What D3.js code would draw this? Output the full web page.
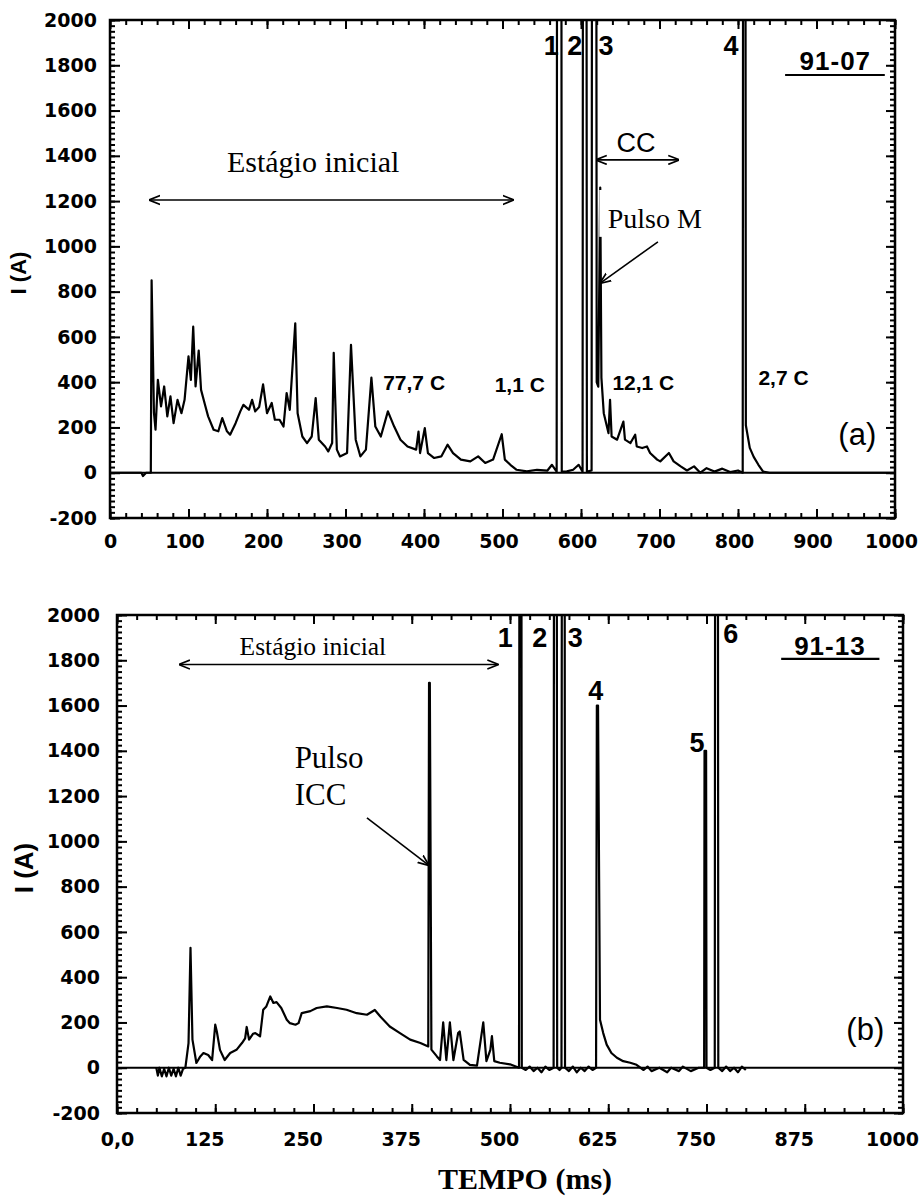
<!DOCTYPE html>
<html lang="pt">
<head>
<meta charset="UTF-8" />
<title>Corrente de descarga</title>
<style>
  body { margin: 0; background: #fff; }
  svg { display: block; }
  .trace { fill: none; stroke: #000; stroke-width: 2.2px; stroke-linejoin: round; }
  .zero { stroke: #000; stroke-width: 2px; }
  .frame { fill: none; stroke: #000; stroke-width: 2.5px; }
  .axis path { display: none; }
  .axis line { stroke: #000; stroke-width: 2px; }
  .axis text { font-family: "DejaVu Sans", sans-serif; font-weight: bold; font-size: 19px; fill: #000; }
  .num { font-family: "Liberation Sans", Arial, sans-serif; font-weight: bold; font-size: 27px; }
  .charge { font-family: "Liberation Sans", Arial, sans-serif; font-weight: bold; font-size: 21px; }
  .serif { font-family: "Liberation Serif", "Times New Roman", serif; }
  .arrow { stroke: #000; stroke-width: 1.6px; fill: none; }
</style>
</head>
<body>
<svg width="924" height="1200"></svg>
<script src="https://cdnjs.cloudflare.com/ajax/libs/d3/7.8.5/d3.min.js"></script>
<script>
// ---- data (ms, A); 2600 = off-scale peak ----
const timeA = [0, 40, 42, 46, 52, 53, 56, 58, 61, 65, 69, 73, 77, 81, 86, 91, 95, 100, 103, 106, 109, 113, 116,
  121, 125, 132, 138, 143, 149, 153, 160, 166, 170, 177, 181, 185, 190, 195, 200, 206, 210, 216, 221, 225, 229,
  236, 239, 245, 251, 257, 262, 266, 274, 278, 283, 285, 289, 293, 302, 307, 313, 319, 326, 333, 338, 345, 354,
  362, 370, 379, 390, 393, 395, 401, 405, 413, 422, 430, 437, 447, 459, 469, 478, 488, 499, 503, 510, 518, 531,
  544, 557, 563, 569, 569.5, 575, 575.5, 582, 590, 597, 602, 602.5, 607, 607.5, 613.5, 614, 619.5, 620, 622,
  624.5, 626, 629, 635, 637, 639, 646, 654, 656, 663, 669, 671, 678, 684, 688, 697, 701, 712, 718, 727, 735,
  744, 752, 760, 770, 780, 790, 800, 806, 806.5, 809.5, 810, 815, 820, 826, 832, 840, 1000];
const currentA = [0, 0, -15, 0, 0, 850, 264, 190, 410, 293, 381, 249, 337, 219, 322, 263, 322, 514, 410, 645, 381,
  540, 366, 300, 249, 190, 183, 241, 183, 168, 219, 271, 300, 278, 322, 271, 290, 390, 263, 308, 234, 234, 204,
  352, 278, 660, 263, 160, 131, 160, 330, 146, 116, 94, 131, 530, 102, 72, 87, 565, 146, 72, 102, 420, 204, 160,
  271, 204, 146, 116, 102, 182, 87, 197, 87, 65, 72, 124, 87, 58, 50, 72, 43, 58, 170, 58, 35, 13, 6, 13, 9, 35,
  5, 2600, 2600, 5, 6, 13, 35, 5, 2600, 2600, 5, 10, 2600, 2600, 400, 380, 1260, 420, 263, 175, 322, 160, 146,
  226, 146, 131, 168, 116, 109, 116, 87, 58, 50, 87, 50, 28, 10, 28, 0, 20, 5, 18, 3, 10, 0, 2600, 2600, 210, 110,
  70, 35, 5, 0, 0];

const timeB = [50, 52, 54, 57, 60, 63, 66, 69, 72, 75, 78, 81, 84, 87, 91, 93.5, 96, 101, 106, 110, 116, 121, 125,
  127, 131, 137, 144, 152, 159, 163, 165, 168, 173, 176, 182, 186, 190, 195, 199, 203, 209, 216, 220, 227, 231,
  235, 246, 254, 267, 280, 292, 305, 318, 328, 335, 347, 360, 373, 386, 396, 397, 398, 400, 407, 411, 415, 419,
  423.5, 428, 434, 436, 441, 449, 458, 466, 470, 475, 477, 480, 487, 500, 511.5, 512, 514.5, 515, 520, 525, 530,
  535, 540, 545, 550, 555.5, 556, 559.5, 560, 563, 565.5, 566, 569.5, 570, 575, 580, 585, 590, 595, 600, 605,
  609.5, 610.5, 612, 614.5, 618.6, 623, 629, 636, 644, 653, 661, 670, 675, 680, 690, 700, 705, 715, 720, 730,
  740, 747, 747.5, 749.5, 750, 755, 760.5, 761, 764.5, 765, 770, 775, 780, 785, 790, 795, 800];
const currentB = [0, -35, 0, -38, -5, -38, 0, -35, -5, -38, 0, -35, -5, 0, 109, 530, 124, 21, 50, 65, 56, 34, 190,
  160, 79, 34, 65, 79, 109, 130, 180, 124, 150, 153, 139, 256, 271, 315, 286, 290, 264, 212, 197, 190, 197, 241,
  250, 264, 271, 264, 256, 241, 234, 255, 226, 182, 153, 124, 109, 94, 1700, 1700, 80, 50, 34, 200, 34, 200, 34,
  153, 160, 35, 13, 9, 200, 29, 79, 140, 29, 22, 15, 0, 2600, 2600, 0, -10, 5, -15, 0, -20, 5, -10, 0, 2600, 2600,
  0, -10, 0, 2600, 2600, 0, -15, 5, -20, 0, -15, 5, -10, 0, 1600, 1600, 212, 153, 102, 65, 44, 29, 22, 13, -10, 5,
  -15, 0, -20, 0, -15, 5, -15, 0, 0, 1400, 1400, 0, -10, 0, 2600, 2600, 0, -15, 5, -15, 0, -20, 5, -10];

const yTicks = d3.range(-200, 2001, 200);
const xTicksA = d3.range(0, 1001, 100);
const xLabelsA = ["0", "100", "200", "300", "400", "500", "600", "700", "800", "900", "1000"];
const xTicksB = d3.range(0, 1001, 125);
const xLabelsB = ["0,0", "125", "250", "375", "500", "625", "750", "875", "1000"];

// annotation anchors in data units (ms, A)
const strokesA = [{ t: 562, i: 1845, s: "1" }, { t: 592, i: 1845, s: "2" }, { t: 632, i: 1845, s: "3" }, { t: 791, i: 1845, s: "4" }];
const chargesA = [{ t: 348, i: 366, s: "77,7 C" }, { t: 490, i: 358, s: "1,1 C" }, { t: 640, i: 366, s: "12,1 C" }, { t: 826, i: 389, s: "2,7 C" }];
const strokesB = [{ t: 494, i: 1859, s: "1" }, { t: 538, i: 1859, s: "2" }, { t: 583, i: 1859, s: "3" },
  { t: 609, i: 1625, s: "4" }, { t: 738, i: 1395, s: "5" }, { t: 781, i: 1876, s: "6" }];

const svg = d3.select("svg");
svg.append("defs").append("marker")
  .attr("id", "head").attr("viewBox", "0 0 10 10").attr("refX", 9).attr("refY", 5)
  .attr("markerWidth", 7).attr("markerHeight", 7).attr("orient", "auto-start-reverse")
  .append("path").attr("d", "M0,1 L10,5 L0,9").attr("fill", "none").attr("stroke", "#000").attr("stroke-width", 1.5);

function drawPanel(p) {
  const g = svg.append("g");
  const x = d3.scaleLinear().domain([0, 1000]).range([p.left, p.right]);
  const y = d3.scaleLinear().domain([-200, 2000]).range([p.bottom, p.top]);

  g.append("clipPath").attr("id", p.id + "clip").append("rect")
    .attr("x", p.left).attr("y", p.top).attr("width", p.right - p.left).attr("height", p.bottom - p.top);

  const minorX = d3.range(0, 1001, p.xMinor);
  const minorY = d3.range(-200, 2001, 25);

  // ticks, all pointing inward
  g.append("g").attr("class", "axis").attr("transform", `translate(0,${p.bottom})`)
    .call(d3.axisBottom(x).tickValues(minorX).tickSize(-5).tickFormat(""));
  g.append("g").attr("class", "axis").attr("transform", `translate(0,${p.bottom})`)
    .call(d3.axisBottom(x).tickValues(p.xTicks).tickSize(-9).tickPadding(p.xPad).tickFormat((d, i) => p.xLabels[i]))
    .selectAll("text").attr("dx", (d, i) => (i === 0 ? 0 : p.xShift));
  g.append("g").attr("class", "axis").attr("transform", `translate(0,${p.top})`)
    .call(d3.axisTop(x).tickValues(minorX).tickSize(-5).tickFormat(""));
  g.append("g").attr("class", "axis").attr("transform", `translate(0,${p.top})`)
    .call(d3.axisTop(x).tickValues(p.xTicks).tickSize(-9).tickFormat(""));
  g.append("g").attr("class", "axis").attr("transform", `translate(${p.left},0)`)
    .call(d3.axisLeft(y).tickValues(minorY).tickSize(-5).tickFormat(""));
  g.append("g").attr("class", "axis").attr("transform", `translate(${p.left},0)`)
    .call(d3.axisLeft(y).tickValues(yTicks).tickSize(-10).tickPadding(p.yPad).tickFormat(d => String(d)));
  g.append("g").attr("class", "axis").attr("transform", `translate(${p.right},0)`)
    .call(d3.axisRight(y).tickValues(minorY).tickSize(-5).tickFormat(""));
  g.append("g").attr("class", "axis").attr("transform", `translate(${p.right},0)`)
    .call(d3.axisRight(y).tickValues(yTicks).tickSize(-9).tickFormat(""));

  g.append("rect").attr("class", "frame")
    .attr("x", p.left).attr("y", p.top).attr("width", p.right - p.left).attr("height", p.bottom - p.top);

  g.append("line").attr("class", "zero")
    .attr("x1", x(0)).attr("x2", x(1000)).attr("y1", y(0)).attr("y2", y(0));

  const pts = p.time.map((t, i) => [t, p.current[i]]);
  g.append("path").attr("class", "trace").attr("clip-path", `url(#${p.id}clip)`)
    .attr("d", d3.line().x(d => x(d[0])).y(d => y(d[1]))(pts));

  g.append("text")
    .attr("transform", `translate(${p.labelX},${p.labelY}) rotate(-90)`)
    .attr("text-anchor", "middle")
    .style("font-family", "Liberation Sans, Arial, sans-serif").style("font-weight", "bold")
    .style("font-size", p.labelSize + "px").text("I (A)");

  g.selectAll(".num" + p.id).data(p.strokes).join("text").attr("class", "num")
    .attr("x", d => x(d.t)).attr("y", d => y(d.i)).attr("text-anchor", "middle").text(d => d.s);

  g.append("text").attr("class", "num").style("font-size", "26px").style("letter-spacing", "1px")
    .attr("x", x(p.code.t)).attr("y", y(p.code.i)).attr("text-anchor", "middle").text(p.code.s);
  g.append("line").attr("stroke", "#000").attr("stroke-width", 2.2)
    .attr("x1", x(p.code.u0)).attr("x2", x(p.code.u1)).attr("y1", y(p.code.ui)).attr("y2", y(p.code.ui));

  g.append("text").style("font-family", "Liberation Sans, Arial, sans-serif").style("font-size", "31px")
    .attr("x", x(952)).attr("y", y(124)).attr("text-anchor", "middle").text(p.tag);

  g.append("text").attr("class", "serif").style("font-size", p.stageSize + "px")
    .attr("x", x(p.stage.t)).attr("y", y(p.stage.i)).text("Estágio inicial");
  g.append("line").attr("class", "arrow")
    .attr("marker-start", "url(#head)").attr("marker-end", "url(#head)")
    .attr("x1", x(p.stage.a0)).attr("x2", x(p.stage.a1)).attr("y1", y(p.stage.ai)).attr("y2", y(p.stage.ai));

  return { g, x, y };
}

const a = drawPanel({
  id: "a", left: 110, right: 895, top: 20, bottom: 518, xMinor: 20, xPad: 17, yPad: 13, xShift: -4,
  xTicks: xTicksA, xLabels: xLabelsA, time: timeA, current: currentA,
  labelX: 26, labelY: 273, labelSize: 22, strokes: strokesA, tag: "(a)",
  code: { t: 924, i: 1779, s: "91-07", u0: 860, u1: 987, ui: 1757 },
  stageSize: 30, stage: { t: 149, i: 1329, a0: 51, a1: 513, ai: 1205 }
});

a.g.selectAll(".charge").data(chargesA).join("text").attr("class", "charge")
  .attr("x", d => a.x(d.t)).attr("y", d => a.y(d.i)).text(d => d.s);

a.g.append("text").style("font-family", "Liberation Sans, Arial, sans-serif").style("font-size", "27px")
  .attr("x", a.x(670)).attr("y", a.y(1417)).attr("text-anchor", "middle").text("CC");
a.g.append("line").attr("class", "arrow")
  .attr("marker-start", "url(#head)").attr("marker-end", "url(#head)")
  .attr("x1", a.x(620)).attr("x2", a.x(724)).attr("y1", a.y(1382)).attr("y2", a.y(1382));

// pasted label box over the M pulse
a.g.append("rect").attr("fill", "#fff")
  .attr("x", a.x(623.3)).attr("y", a.y(1249)).attr("width", a.x(767) - a.x(623.3)).attr("height", a.y(1042) - a.y(1249));
a.g.append("text").attr("class", "serif").style("font-size", "28px")
  .attr("x", a.x(634)).attr("y", a.y(1082)).text("Pulso M");
a.g.append("line").attr("class", "arrow").attr("marker-end", "url(#head)")
  .attr("x1", a.x(698)).attr("y1", a.y(1020)).attr("x2", a.x(625)).attr("y2", a.y(839));

const b = drawPanel({
  id: "b", left: 117, right: 903, top: 615, bottom: 1113, xMinor: 25, xPad: 20, yPad: 17, xShift: -11,
  xTicks: xTicksB, xLabels: xLabelsB, time: timeB, current: currentB,
  labelX: 33, labelY: 868, labelSize: 26, strokes: strokesB, tag: "(b)",
  code: { t: 907, i: 1823, s: "91-13", u0: 845, u1: 970, ui: 1806 },
  stageSize: 25.5, stage: { t: 156, i: 1823, a0: 80, a1: 484, ai: 1781 }
});

b.g.append("text").attr("class", "serif").style("font-size", "31px")
  .attr("x", b.x(226)).attr("y", b.y(1325)).text("Pulso");
b.g.append("text").attr("class", "serif").style("font-size", "31px")
  .attr("x", b.x(226)).attr("y", b.y(1161)).text("ICC");
b.g.append("line").attr("class", "arrow").attr("marker-end", "url(#head)")
  .attr("x1", b.x(318)).attr("y1", b.y(1104)).attr("x2", b.x(396)).attr("y2", b.y(896));

svg.append("text").attr("class", "serif").style("font-size", "30px").style("font-weight", "bold")
  .attr("x", 525).attr("y", 1189).attr("text-anchor", "middle").text("TEMPO (ms)");
</script>
</body>
</html>
